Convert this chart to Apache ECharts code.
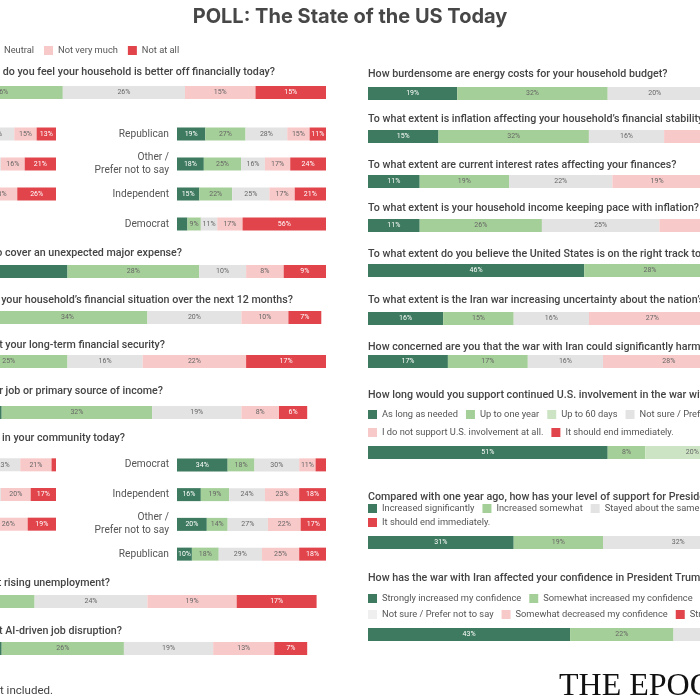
<!DOCTYPE html>
<html>
<head>
<meta charset="utf-8">
<script src="https://cdn.jsdelivr.net/npm/echarts@6/dist/echarts.min.js"></script>
<style>
  html, body { margin: 0; padding: 0; background: #fff; }
  #chart { width: 700px; height: 700px; }
</style>
</head>
<body>
<div id="chart"></div>
<script>
// answer scales
const agreeLevels = ['Very much', 'Somewhat', 'Neutral', 'Not very much', 'Not at all']
const durationLevels = ['As long as needed', 'Up to one year', 'Up to 60 days', 'Not sure / Prefer not to say', 'I do not support U.S. involvement at all.', 'It should end immediately.']
const supportLevels = ['Increased significantly', 'Increased somewhat', 'Stayed about the same', 'Decreased somewhat', 'It should end immediately.']
const confidenceLevels = ['Strongly increased my confidence', 'Somewhat increased my confidence', 'No change in my confidence', 'Not sure / Prefer not to say', 'Somewhat decreased my confidence', 'Strongly decreased my confidence']

// breakdown rows
const groupRows = ['Group A', 'Group B', 'Group C']
const partyRowsTop = ['Republican', 'Other /\nPrefer not to say', 'Independent', 'Democrat']
const partyRowsBottom = ['Democrat', 'Independent', 'Other /\nPrefer not to say', 'Republican']

// left column, % per answer
const betterOff = [18, 26, 26, 15, 15]
const betterOffGroup = [[20, 27, 25, 15, 13], [17, 24, 22, 16, 21], [14, 20, 17, 23, 26]]
const betterOffParty = [[19, 27, 28, 15, 11], [18, 25, 16, 17, 24], [15, 22, 25, 17, 21], [7, 9, 11, 17, 56]]
const majorExpense = [45, 28, 10, 8, 9]
const next12Months = [28, 34, 20, 10, 7]
const longTermSecurity = [20, 25, 16, 22, 17]
const jobSecurity = [31, 32, 19, 8, 6]
const communityGroup = [[25, 28, 23, 21, 3], [18, 21, 24, 20, 17], [15, 17, 23, 26, 19]]
const communityParty = [[34, 18, 30, 11, 7], [16, 19, 24, 23, 18], [20, 14, 27, 22, 17], [10, 18, 29, 25, 18]]
const unemployment = [18, 20, 24, 19, 17]
const aiDisruption = [31, 26, 19, 13, 7]

// right column, % per answer
const energyCosts = [19, 32, 20, 16, 13]
const inflationStability = [15, 32, 16, 21, 16]
const interestRates = [11, 19, 22, 19, 29]
const incomePace = [11, 26, 25, 22, 16]
const rightTrack = [46, 28, 12, 8, 6]
const warUncertainty = [16, 15, 16, 27, 26]
const warHarm = [17, 17, 16, 28, 22]
const warInvolvement = [51, 8, 20, 8, 5, 8]
const trumpSupport = [31, 19, 32, 10, 8]
const trumpConfidence = [43, 22, 15, 5, 8, 7]

const FONT = 'Roboto, sans-serif'
const DARK = '#3d7a5f'
const GREEN = '#a5cf98'
const PALE = '#cde4c4'
const GRAY = '#e3e3e3'
const LIGHTGRAY = '#efefef'
const PINK = '#f8c9c9'
const RED = '#e1444b'
const TEXT = '#444'

const agreeColors = [DARK, GREEN, GRAY, PINK, RED]
const durationColors = [DARK, GREEN, PALE, GRAY, PINK, RED]
const supportColors = [DARK, GREEN, GRAY, PINK, RED]
const confidenceColors = [DARK, GREEN, GRAY, LIGHTGRAY, PINK, RED]

const grid = []
const xAxis = []
const yAxis = []
const series = []

function addBars (rows, values, names, colors, box, opt) {
  opt = opt || {}
  const i = grid.length
  // outerBoundsMode none: let the left column run past the canvas edge
  grid.push({ left: box.left, top: box.top, width: box.width, height: box.height, outerBoundsMode: 'none', containLabel: false })
  xAxis.push({ gridIndex: i, type: 'value', min: 0, max: 100, show: false })
  yAxis.push({
    gridIndex: i,
    type: 'category',
    data: rows,
    inverse: true,
    axisLine: { show: false },
    axisTick: { show: false },
    axisLabel: {
      show: !!opt.showRows,
      margin: 8,
      fontSize: 10.2,
      lineHeight: 13,
      color: '#555',
      fontFamily: FONT
    }
  })
  names.forEach((name, k) => {
    series.push({
      name: name,
      type: 'bar',
      stack: 'g' + i,
      xAxisIndex: i,
      yAxisIndex: i,
      barWidth: 13,
      data: values.map(r => r[k]),
      itemStyle: { color: colors[k] },
      label: {
        show: true,
        position: 'inside',
        fontSize: 7,
        fontFamily: FONT,
        color: (colors[k] === DARK || colors[k] === RED) ? '#fff' : '#666',
        formatter: p => p.value >= (opt.minLabel || 3) ? p.value + '%' : ''
      },
      emphasis: { disabled: true }
    })
  })
}

// full-width bars: left column runs off the canvas
const LEFT_X = -144
const RIGHT_X = 368
const FULL_W = 470
function single (values, x, top, names, colors) {
  addBars([''], [values], names || agreeLevels, colors || agreeColors,
    { left: x, top: top, width: FULL_W, height: 13 })
}

single(betterOff, LEFT_X, 86)
addBars(groupRows, betterOffGroup, agreeLevels, agreeColors, { left: -93, top: 119, width: 149, height: 90 }, { minLabel: 8 })
addBars(partyRowsTop, betterOffParty, agreeLevels, agreeColors, { left: 177, top: 119, width: 149, height: 120 }, { minLabel: 8, showRows: true })
single(majorExpense, LEFT_X, 265)
single(next12Months, LEFT_X, 311)
single(longTermSecurity, LEFT_X, 355)
single(jobSecurity, LEFT_X, 406)
addBars(groupRows, communityGroup, agreeLevels, agreeColors, { left: -93, top: 450, width: 149, height: 89 }, { minLabel: 8 })
addBars(partyRowsBottom, communityParty, agreeLevels, agreeColors, { left: 177, top: 450, width: 149, height: 119 }, { minLabel: 8, showRows: true })
single(unemployment, LEFT_X, 595)
single(aiDisruption, LEFT_X, 642)

single(energyCosts, RIGHT_X, 87)
single(inflationStability, RIGHT_X, 130)
single(interestRates, RIGHT_X, 175)
single(incomePace, RIGHT_X, 219)
single(rightTrack, RIGHT_X, 264)
single(warUncertainty, RIGHT_X, 312)
single(warHarm, RIGHT_X, 355)
single(warInvolvement, RIGHT_X, 446, durationLevels, durationColors)
single(trumpSupport, RIGHT_X, 536, supportLevels, supportColors)
single(trumpConfidence, RIGHT_X, 628, confidenceLevels, confidenceColors)

// question headings
const qStyle = { fontSize: 10.7, fontWeight: 500, color: TEXT, fontFamily: FONT }
const title = [
  { text: 'POLL: The State of the US Today', left: 'center', top: 7, padding: 0,
    textStyle: { fontSize: 20, fontWeight: 'bold', color: '#474747', fontFamily: 'Inter, sans-serif' } },
  // left column, right-aligned so the start falls off the canvas
  { text: 'To what extent do you feel your household is better off financially today?', right: 425, top: 67 },
  { text: 'How confident are you in your ability to cover an unexpected major expense?', right: 518, top: 248 },
  { text: 'How do you feel about your household\u2019s financial situation over the next 12 months?', right: 407, top: 295 },
  { text: 'How confident do you feel about your long-term financial security?', right: 535, top: 340 },
  { text: 'How secure do you feel in your job or primary source of income?', right: 537, top: 386 },
  { text: 'How safe do you feel in your community today?', right: 575, top: 433 },
  { text: 'How concerned are you about rising unemployment?', right: 590, top: 578 },
  { text: 'How concerned are you about AI-driven job disruption?', right: 578, top: 626 },
  // right column
  { text: 'How burdensome are energy costs for your household budget?', left: RIGHT_X, top: 69 },
  { text: 'To what extent is inflation affecting your household\u2019s financial stability?', left: RIGHT_X, top: 114 },
  { text: 'To what extent are current interest rates affecting your finances?', left: RIGHT_X, top: 160 },
  { text: 'To what extent is your household income keeping pace with inflation?', left: RIGHT_X, top: 203 },
  { text: 'To what extent do you believe the United States is on the right track today?', left: RIGHT_X, top: 249 },
  { text: 'To what extent is the Iran war increasing uncertainty about the nation\u2019s future?', left: RIGHT_X, top: 295 },
  { text: 'How concerned are you that the war with Iran could significantly harm the economy?', left: RIGHT_X, top: 342 },
  { text: 'How long would you support continued U.S. involvement in the war with Iran?', left: RIGHT_X, top: 390 },
  { text: 'Compared with one year ago, how has your level of support for President Trump changed?', left: RIGHT_X, top: 492 },
  { text: 'How has the war with Iran affected your confidence in President Trump?', left: RIGHT_X, top: 573 }
].map((t, i) => i === 0 ? t : Object.assign({ padding: 0, textStyle: qStyle }, t))

title.push({ text: 'Note: \u201cNot sure\u201d responses not included.', right: 647, top: 685, padding: 0,
  textStyle: { fontSize: 11.5, fontWeight: 'normal', color: TEXT, fontFamily: FONT } })
title.push({ text: 'THE EPOCH TIMES', left: 559, top: 671, padding: 0,
  textStyle: { fontSize: 32, fontWeight: 'normal', color: '#111', fontFamily: '"Liberation Serif", "DejaVu Serif", serif' } })

const legendBase = {
  icon: 'rect', itemWidth: 9, itemHeight: 9, itemGap: 8, padding: 0, width: 1000,
  selectedMode: false,
  textStyle: { fontSize: 9.3, color: '#555', fontFamily: FONT }
}
const legend = [
  { data: ['Neutral', 'Not very much', 'Not at all'], left: -10, top: 46, itemGap: 10 },
  { data: durationLevels.slice(0, 4), left: RIGHT_X, top: 410 },
  { data: durationLevels.slice(4), left: RIGHT_X, top: 428 },
  { data: supportLevels.slice(0, 4), left: RIGHT_X, top: 504 },
  { data: supportLevels.slice(4), left: RIGHT_X, top: 518 },
  { data: confidenceLevels.slice(0, 3), left: RIGHT_X, top: 594 },
  { data: [{ name: 'Not sure / Prefer not to say', itemStyle: { color: LIGHTGRAY } }, 'Somewhat decreased my confidence', 'Strongly decreased my confidence'], left: RIGHT_X, top: 610 }
].map(l => Object.assign({}, legendBase, l))

const chart = echarts.init(document.getElementById('chart'))
chart.setOption({
  backgroundColor: '#fff',
  animation: false,
  title: title,
  legend: legend,
  grid: grid,
  xAxis: xAxis,
  yAxis: yAxis,
  series: series
})
</script>
</body>
</html>
